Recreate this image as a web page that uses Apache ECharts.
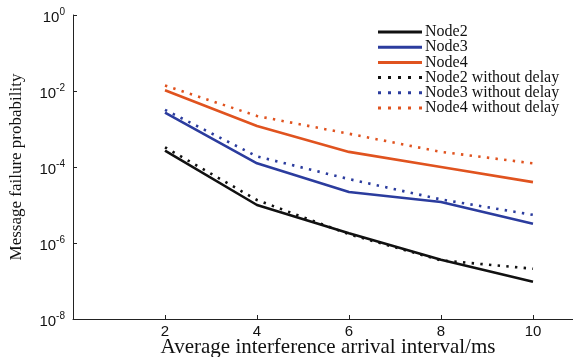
<!DOCTYPE html>
<html>
<head>
<meta charset="utf-8">
<script src="https://cdn.jsdelivr.net/npm/echarts@6/dist/echarts.min.js"></script>
<style>
  html, body { margin: 0; padding: 0; background: #fff; }
  #chart { width: 573px; height: 357px; }
</style>
</head>
<body>
<div id="chart"></div>
<script>
// average interference arrival interval (ms)
var intervals = [2, 4, 6, 8, 10];
var xTicks = [2, 4, 6, 8, 10];

// message failure probability
var node2 = [2.7e-4, 1.0e-5, 1.8e-6, 3.6e-7, 9.5e-8];
var node3 = [2.7e-3, 1.25e-4, 2.2e-5, 1.2e-5, 3.2e-6];
var node4 = [1.05e-2, 1.2e-3, 2.5e-4, 1.0e-4, 4.0e-5];
var node2NoDelay = [3.3e-4, 1.35e-5, 1.7e-6, 3.5e-7, 2.1e-7];
var node3NoDelay = [3.2e-3, 1.9e-4, 4.8e-5, 1.4e-5, 5.5e-6];
var node4NoDelay = [1.4e-2, 2.2e-3, 7.5e-4, 2.5e-4, 1.25e-4];

var BLACK = '#111111';
var BLUE = '#2b3c9e';
var ORANGE = '#e0531f';

// legend swatches: a plain bar, or five short dots
var SOLID_ICON = 'path://M0,0H44V3H0Z';
var DOT_ICON = 'path://M0,0h3v3h-3z M10,0h3v3h-3z M20,0h3v3h-3z M30,0h3v3h-3z M41,0h3v3h-3z';

function pairs(ys) {
  return intervals.map(function (x, i) { return [x, ys[i]]; });
}

function makeSeries(name, ys, color, dotted) {
  return {
    name: name,
    type: 'line',
    data: pairs(ys),
    symbol: 'none',
    silent: true,
    lineStyle: {
      color: color,
      width: 2.6,
      type: dotted ? [2.4, 6.3] : 'solid',
      cap: 'butt'
    },
    itemStyle: { color: color }
  };
}

var chart = echarts.init(document.getElementById('chart'));

chart.setOption({
  animation: false,
  backgroundColor: '#fff',
  grid: {
    left: 73,
    right: 0,
    top: 15,
    bottom: 38,
    outerBoundsMode: 'none',
    containLabel: false
  },
  legend: {
    orient: 'vertical',
    left: 373,
    top: 19,
    itemWidth: 44,
    itemHeight: 3,
    itemGap: -0.8,
    textStyle: {
      fontFamily: 'Liberation Serif',
      fontSize: 16,
      color: '#111',
      padding: [0, 0, 0, -2]
    },
    data: [
      { name: 'Node2', icon: SOLID_ICON },
      { name: 'Node3', icon: SOLID_ICON },
      { name: 'Node4', icon: SOLID_ICON },
      { name: 'Node2 without delay', icon: DOT_ICON },
      { name: 'Node3 without delay', icon: DOT_ICON },
      { name: 'Node4 without delay', icon: DOT_ICON }
    ]
  },
  xAxis: {
    type: 'value',
    min: 0,
    max: 10.87,
    interval: 2,
    name: 'Average interference arrival interval/ms',
    nameLocation: 'middle',
    nameGap: 18,
    nameMoveOverlap: false,
    nameTextStyle: {
      fontFamily: 'Liberation Serif',
      fontSize: 21,
      color: '#111',
      padding: [0, 0, 0, 10]
    },
    axisLine: { lineStyle: { color: '#222', width: 1 } },
    axisTick: {
      inside: true,
      length: 4,
      customValues: xTicks,
      lineStyle: { color: '#222' }
    },
    axisLabel: {
      customValues: xTicks,
      margin: 5,
      fontFamily: 'Liberation Sans',
      fontSize: 15,
      color: '#111'
    },
    splitLine: { show: false }
  },
  yAxis: {
    type: 'log',
    logBase: 10,
    min: 1e-8,
    max: 1,
    interval: 2,
    name: 'Message failure probability',
    nameLocation: 'middle',
    nameGap: 48,
    nameRotate: 90,
    nameMoveOverlap: false,
    nameTextStyle: {
      fontFamily: 'Liberation Serif',
      fontSize: 17,
      color: '#111'
    },
    axisLine: { show: true, lineStyle: { color: '#222', width: 1 } },
    axisTick: {
      show: true,
      inside: true,
      length: 4,
      lineStyle: { color: '#222' }
    },
    minorTick: { show: false },
    axisLabel: {
      margin: 8,
      fontFamily: 'Liberation Sans',
      color: '#111',
      formatter: function (v) {
        var e = Math.round(Math.log10(v));
        return '{b|10}{e|' + (e === 0 ? '0' : e) + '}';
      },
      rich: {
        b: { fontFamily: 'Liberation Sans', fontSize: 15, color: '#111', padding: [6, 0, 0, 0] },
        e: { fontFamily: 'Liberation Sans', fontSize: 10, color: '#111', padding: [0, 0, 6, 0] }
      }
    },
    splitLine: { show: false }
  },
  series: [
    makeSeries('Node2', node2, BLACK, false),
    makeSeries('Node3', node3, BLUE, false),
    makeSeries('Node4', node4, ORANGE, false),
    makeSeries('Node2 without delay', node2NoDelay, BLACK, true),
    makeSeries('Node3 without delay', node3NoDelay, BLUE, true),
    makeSeries('Node4 without delay', node4NoDelay, ORANGE, true)
  ]
});
</script>
</body>
</html>
